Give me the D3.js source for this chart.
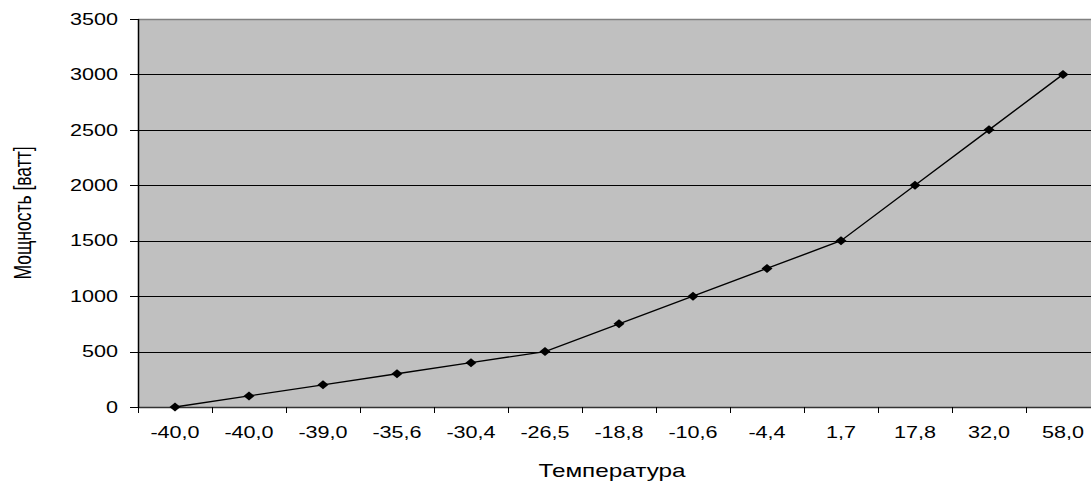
<!DOCTYPE html>
<html><head><meta charset="utf-8">
<script src="https://cdn.jsdelivr.net/npm/d3@7"></script>
<style>body{margin:0;background:#fff}svg{display:block}text{font-family:"Liberation Sans",Arial,sans-serif;fill:#000}</style>
</head><body><svg id="c" width="1091" height="487"></svg>
<script>
const categories = ["-40,0","-40,0","-39,0","-35,6","-30,4","-26,5","-18,8","-10,6","-4,4","1,7","17,8","32,0","58,0"];
const power = [0,100,200,300,400,500,750,1000,1250,1500,2000,2500,3000];
const yTicks = [0,500,1000,1500,2000,2500,3000,3500];
const xTitle = "Температура";
const yTitle = "Мощность [ватт]";

const svg = d3.select("#c");
const L = 138, R = 1100, T = 19, B = 407, SX = 1.35;
const x = d3.scaleBand().domain(d3.range(categories.length)).range([L, R]).padding(0);
const y = d3.scaleLinear().domain([0, 3500]).range([B, T]);

svg.append("rect").attr("x", L).attr("y", T).attr("width", R - L).attr("height", B - T).attr("fill", "#c0c0c0");
// grid
svg.append("g").selectAll("line").data(yTicks.filter(v => v > 0 && v < 3500)).join("line")
  .attr("x1", L).attr("x2", R).attr("y1", d => Math.round(y(d)) + 0.5).attr("y2", d => Math.round(y(d)) + 0.5)
  .attr("stroke", "#000").attr("stroke-width", 1);
// top border
svg.append("line").attr("x1", L).attr("x2", R).attr("y1", T + 0.5).attr("y2", T + 0.5).attr("stroke", "#808080").attr("stroke-width", 1.5);
// bottom axis
svg.append("line").attr("x1", L).attr("x2", R).attr("y1", B + 0.5).attr("y2", B + 0.5).attr("stroke", "#333").attr("stroke-width", 1.5);
// x ticks at band boundaries
const bounds = d3.range(categories.length + 1).map(i => L + i * x.bandwidth());
svg.append("g").selectAll("line").data(bounds).join("line")
  .attr("x1", d => Math.round(d) + 0.5).attr("x2", d => Math.round(d) + 0.5).attr("y1", B).attr("y2", B + 6)
  .attr("stroke", "#000");
// left axis
svg.append("line").attr("x1", L + 0.5).attr("x2", L + 0.5).attr("y1", T).attr("y2", B + 1).attr("stroke", "#000").attr("stroke-width", 1.5);
svg.append("g").selectAll("line").data(yTicks).join("line")
  .attr("x1", L - 8).attr("x2", L).attr("y1", d => Math.round(y(d)) + 0.5).attr("y2", d => Math.round(y(d)) + 0.5)
  .attr("stroke", "#000");
// y labels
svg.append("g").selectAll("text").data(yTicks).join("text")
  .attr("transform", d => `translate(118,${y(d)}) scale(${SX},1)`)
  .attr("text-anchor", "end").attr("dy", "0.36em").attr("font-size", 16).text(d => d);
// x labels
svg.append("g").selectAll("text").data(categories).join("text")
  .attr("transform", (d, i) => `translate(${x(i) + x.bandwidth() / 2},438) scale(${SX},1)`)
  .attr("text-anchor", "middle").attr("font-size", 16).text(d => d);
// titles
svg.append("text").attr("transform", `translate(612,477) scale(${SX},1)`).attr("text-anchor", "middle").attr("font-size", 18).text(xTitle);
svg.append("text").attr("transform", `translate(31,213) scale(${SX},1) rotate(-90)`).attr("text-anchor", "middle").attr("font-size", 17.5).text(yTitle);
// line
const pts = power.map((v, i) => [x(i) + x.bandwidth() / 2, y(v)]);
svg.append("path").attr("d", d3.line()(pts)).attr("fill", "none").attr("stroke", "#000").attr("stroke-width", 1.4);
svg.append("g").selectAll("path").data(pts).join("path")
  .attr("d", d => `M${d[0]-5.5},${d[1]}L${d[0]},${d[1]-4.5}L${d[0]+5.5},${d[1]}L${d[0]},${d[1]+4.5}Z`)
  .attr("fill", "#000");
</script></body></html>
